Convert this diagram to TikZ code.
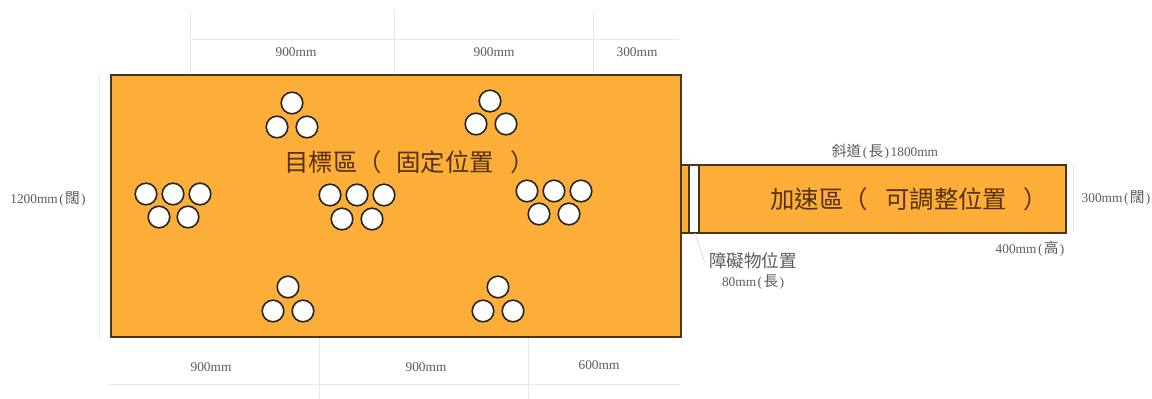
\documentclass[tikz,border=0pt]{standalone}
\usepackage{fontspec}
\setmainfont{Liberation Serif}
\newfontfamily\cjk{Noto Sans CJK TC}
\definecolor{zonefill}{RGB}{252,174,56}
\definecolor{zoneline}{RGB}{75,52,30}
\definecolor{dimline}{RGB}{232,232,232}
\definecolor{dimtext}{RGB}{90,90,90}
\definecolor{zonetext}{RGB}{85,50,12}
\tikzset{
  zone/.style={draw=zoneline,fill=zonefill,line width=1.5pt},
  gap/.style={draw=zoneline,fill=white,line width=1.5pt},
  ball/.style={circle,draw=black!85,fill=white,line width=1.2pt,minimum size=16.2pt,inner sep=0pt},
  dim/.style={draw=dimline,line width=0.6pt},
  dimlabel/.style={inner sep=0pt,text=dimtext,font=\fontsize{10pt}{12pt}\selectfont},
  zonelabel/.style={inner sep=0pt,anchor=west,text=zonetext,font=\fontsize{18.3pt}{20pt}\cjk\selectfont}
}
\newcommand{\zh}[1]{{\fontsize{11pt}{12pt}\cjk\selectfont #1}}
\newcommand{\pz}[1]{\hspace{1.2pt}(\hspace{1pt}\zh{#1}\hspace{1pt})\hspace{1.2pt}}
\begin{document}
\begin{tikzpicture}[x=0.75pt,y=-0.75pt]
\useasboundingbox (0,0) rectangle (1152,399);
% dimension lines
\coordinate (t0) at (190,39); \coordinate (t3) at (679,39);
\coordinate (ta) at (190,12); \coordinate (tab) at (190,75);
\coordinate (tb) at (394,12); \coordinate (tbb) at (394,75);
\coordinate (tc) at (593,12); \coordinate (tcb) at (593,75);
\draw[dim] (t0) -- (t3) (ta) -- (tab) (tb) -- (tbb) (tc) -- (tcb);
\coordinate (b0) at (108,384); \coordinate (b3) at (680,384);
\coordinate (ba) at (319,337); \coordinate (bab) at (319,399);
\coordinate (bb) at (528,337); \coordinate (bbb) at (528,399);
\draw[dim] (b0) -- (b3) (ba) -- (bab) (bb) -- (bbb);
\coordinate (la) at (99,75); \coordinate (lb) at (99,338);
\draw[dim] (la) -- (lb);
\coordinate (ra) at (1073,165); \coordinate (rb) at (1073,232);
\draw[dim] (ra) -- (rb);
% zones
\draw[zone] (680.5,165.5) rectangle (1065.5,232.5);
\draw[gap] (688.5,165.5) rectangle (699,232.5);
\draw[zone] (110.5,75.5) rectangle (680.5,336.5);
\coordinate (leadA) at (695,233); \coordinate (leadB) at (705,263);
\draw[draw=black!15,line width=0.5pt] (leadA) -- (leadB);
% balls
\foreach \n/\x/\y in {a1/292/103,a2/277/127,a3/307/127,
  b1/490/101,b2/476/124,b3/506/124,
  c1/146/194,c2/173/194,c3/200/194,c4/159/217,c5/188/217,
  d1/330/195,d2/357/195,d3/384/195,d4/342/219,d5/372/219,
  e1/527/191,e2/554/191,e3/581/191,e4/539/214,e5/569/214,
  f1/288/287,f2/273/311,f3/303/311,
  g1/498/287,g2/483/311,g3/513/311}
  \node[ball] (\n) at (\x,\y) {};
% labels
\node[dimlabel] (l1) at (296,52) {900mm};
\node[dimlabel] (l2) at (494,52) {900mm};
\node[dimlabel] (l3) at (637,52) {300mm};
\node[dimlabel] (l4) at (211,367) {900mm};
\node[dimlabel] (l5) at (426,367) {900mm};
\node[dimlabel] (l6) at (599,365) {600mm};
\node[dimlabel] (l7) at (48,199) {1200mm\pz{闊}};
\node[dimlabel] (l8) at (885,152) {\zh{斜道}\pz{長}1800mm};
\node[dimlabel] (l9) at (1116,198) {300mm\pz{闊}};
\node[dimlabel] (l10) at (1030,249) {400mm\pz{高}};
\node[dimlabel] (l11) at (753,261) {\fontsize{13.2pt}{14pt}\cjk\selectfont 障礙物位置};
\node[dimlabel] (l12) at (753,282) {80mm\pz{長}};
\node[zonelabel] (z1) at (284,162) {目標區（\hspace{11pt}固定位置\hspace{12pt}）};
\node[zonelabel] (z2) at (770,199) {加速區（\hspace{13pt}可調整位置\hspace{12pt}）};
\end{tikzpicture}
\end{document}
